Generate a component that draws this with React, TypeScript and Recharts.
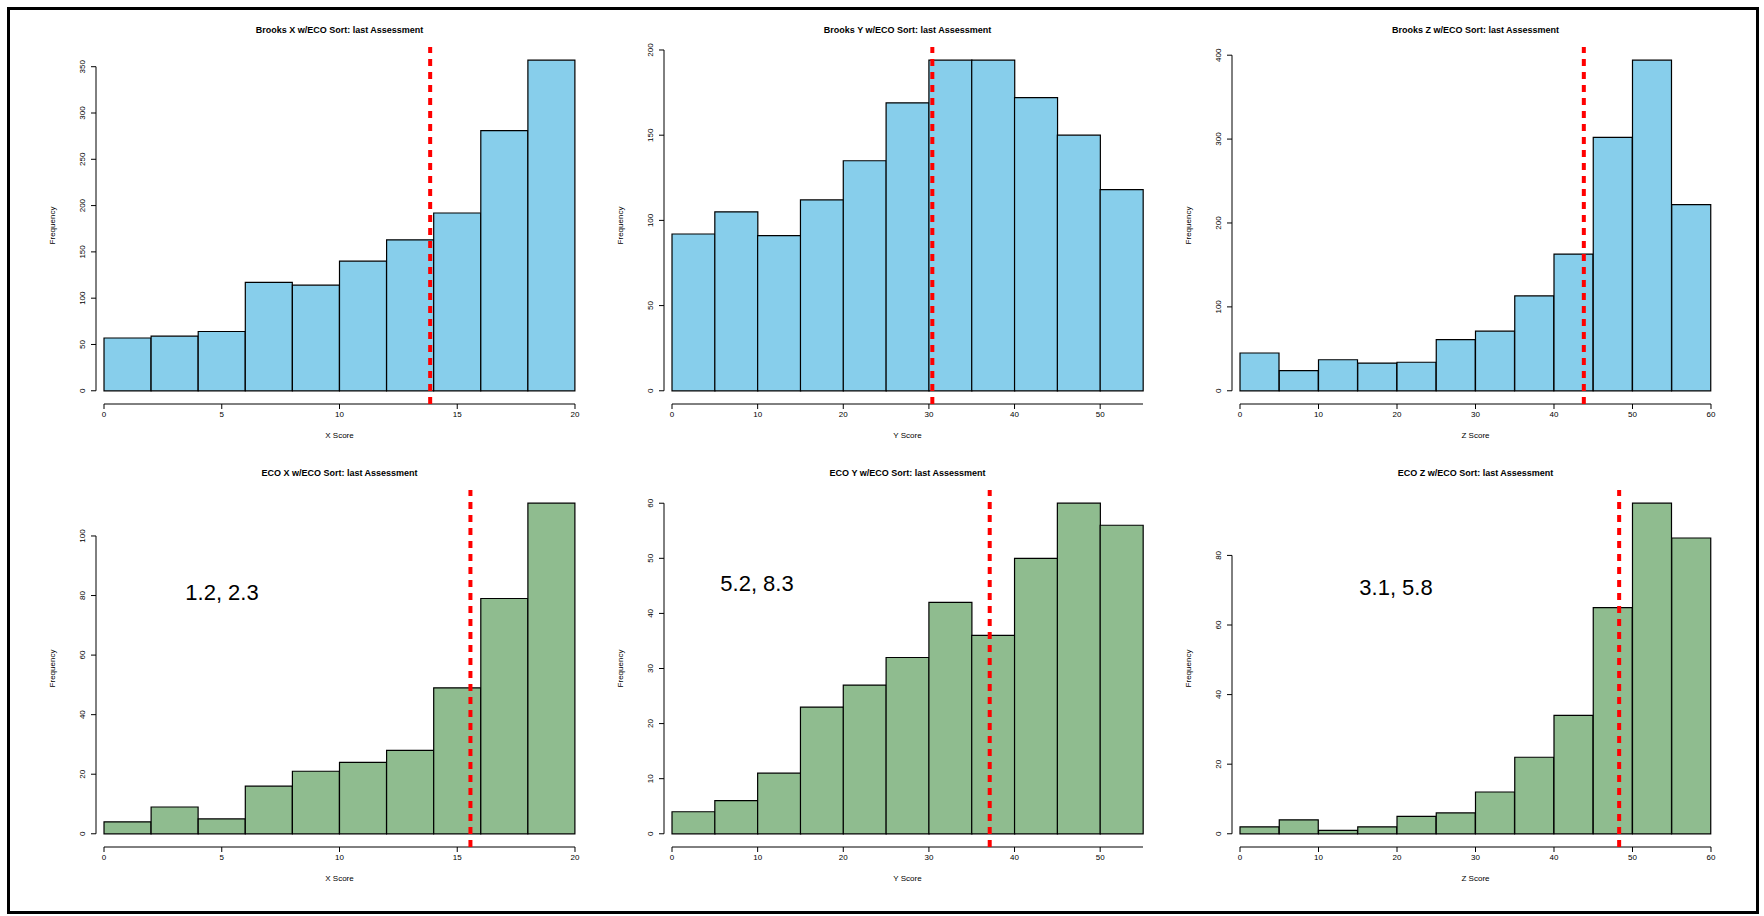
import React from 'react';
import { ComposedChart, Bar, XAxis, YAxis, ReferenceLine } from 'recharts';

// bin counts
const brooksX = [57, 59, 64, 117, 114, 140, 163, 192, 281, 357];
const brooksY = [92, 105, 91, 112, 135, 169, 194, 194, 172, 150, 118];
const brooksZ = [45, 24, 37, 33, 34, 61, 71, 113, 163, 302, 394, 222];
const ecoX = [4, 9, 5, 16, 21, 24, 28, 49, 79, 111];
const ecoY = [4, 6, 11, 23, 27, 32, 42, 36, 50, 60, 56];
const ecoZ = [2, 4, 1, 2, 5, 6, 12, 22, 34, 65, 95, 85];

const xTicksX = [0, 5, 10, 15, 20];
const xTicksY = [0, 10, 20, 30, 40, 50];
const xTicksZ = [0, 10, 20, 30, 40, 50, 60];

const BLUE = '#87CEEB';
const GREEN = '#8FBC8F';
const FONT = 'Liberation Sans, Arial, sans-serif';

interface PanelProps {
  title: string;
  xLabel: string;
  counts: number[];
  binWidth: number;
  xMax: number;
  xTicks: number[];
  yTicks: number[];
  cut: number;
  fill: string;
  left: number;
  top: number;
  note?: string;
  noteX?: number;
  noteY?: number;
}

const W = 487;
const H = 357;
const ML = 40;
const MT = 40;

const YTick = (props: any) => {
  const { x, y, payload } = props;
  const tx = x - 4;
  return (
    <text x={tx} y={y} transform={`rotate(-90, ${tx}, ${y})`} textAnchor="middle" fontSize={8} fill="#000" fontFamily={FONT}>
      {payload.value}
    </text>
  );
};

const Panel: React.FC<PanelProps> = (p) => {
  const data = p.counts.map((c, i) => ({ mid: (i + 0.5) * p.binWidth, count: c }));
  const ymax = Math.max(...p.counts);
  const xPad = p.xMax * 0.017;
  const yLo = -0.04 * ymax;
  const lastTick = p.yTicks[p.yTicks.length - 1];
  return (
    <div style={{ position: 'absolute', left: p.left - ML, top: p.top - MT }}>
      <div style={{ position: 'absolute', left: ML, top: MT - 22, width: W, textAlign: 'center', fontSize: 9, fontWeight: 'bold', fontFamily: FONT }}>
        {p.title}
      </div>
      <div style={{ position: 'absolute', left: ML, top: MT + H + 27, width: W, textAlign: 'center', fontSize: 8, fontFamily: FONT }}>
        {p.xLabel}
      </div>
      <div style={{ position: 'absolute', left: ML - 44 - 30, top: MT + H / 2 - 5, width: 60, textAlign: 'center', fontSize: 8, fontFamily: FONT, transform: 'rotate(-90deg)' }}>
        Frequency
      </div>
      {p.note && (
        <div style={{ position: 'absolute', left: (p.noteX ?? 0) - p.left + ML - 85, top: (p.noteY ?? 0) - p.top + MT - 13, width: 170, textAlign: 'center', fontSize: 22, lineHeight: '26px', fontFamily: FONT }}>
          {p.note}
        </div>
      )}
      <ComposedChart width={W + ML + 20} height={H + MT + 40} data={data} barCategoryGap={0} barGap={0}
        margin={{ left: ML - 30, top: MT, right: 20, bottom: 10 }}>
        <XAxis dataKey="mid" type="number" domain={[-xPad, p.xMax + xPad]} ticks={p.xTicks} axisLine={false}
          tickSize={5} tick={{ fontSize: 8, fill: '#000', fontFamily: FONT }} tickLine={{ stroke: '#000' }} height={30} allowDataOverflow />
        <YAxis type="number" domain={[yLo, 1.04 * ymax]} ticks={p.yTicks} axisLine={false} width={30}
          tickSize={5} tick={<YTick />} tickLine={{ stroke: '#000' }} allowDataOverflow />
        <Bar dataKey="count" fill={p.fill} stroke="#000" strokeWidth={1.2} isAnimationActive={false} />
        <ReferenceLine segment={[{ x: 0, y: yLo }, { x: p.xMax, y: yLo }]} stroke="#000" ifOverflow="visible" />
        <ReferenceLine segment={[{ x: -xPad, y: 0 }, { x: -xPad, y: lastTick }]} stroke="#000" ifOverflow="visible" />
        <ReferenceLine x={p.cut} stroke="#ff0000" strokeWidth={4} strokeDasharray="7 6" ifOverflow="visible" />
      </ComposedChart>
    </div>
  );
};

const App: React.FC = () => {
  return (
    <div style={{ position: 'absolute', left: 0, top: 0, width: 1764, height: 916, background: '#fff', fontFamily: FONT }}>
      <div style={{ position: 'absolute', left: 7, top: 7, width: 1746, height: 901, border: '3px solid #000' }} />
      <Panel title="Brooks X w/ECO Sort: last Assessment" xLabel="X Score" counts={brooksX} binWidth={2} xMax={20}
        xTicks={xTicksX} yTicks={[0, 50, 100, 150, 200, 250, 300, 350]} cut={13.85} fill={BLUE} left={96} top={47} />
      <Panel title="Brooks Y w/ECO Sort: last Assessment" xLabel="Y Score" counts={brooksY} binWidth={5} xMax={55}
        xTicks={xTicksY} yTicks={[0, 50, 100, 150, 200]} cut={30.4} fill={BLUE} left={664} top={47} />
      <Panel title="Brooks Z w/ECO Sort: last Assessment" xLabel="Z Score" counts={brooksZ} binWidth={5} xMax={60}
        xTicks={xTicksZ} yTicks={[0, 100, 200, 300, 400]} cut={43.8} fill={BLUE} left={1232} top={47} />
      <Panel title="ECO X w/ECO Sort: last Assessment" xLabel="X Score" counts={ecoX} binWidth={2} xMax={20}
        xTicks={xTicksX} yTicks={[0, 20, 40, 60, 80, 100]} cut={15.56} fill={GREEN} left={96} top={490}
        note="1.2, 2.3" noteX={222} noteY={593} />
      <Panel title="ECO Y w/ECO Sort: last Assessment" xLabel="Y Score" counts={ecoY} binWidth={5} xMax={55}
        xTicks={xTicksY} yTicks={[0, 10, 20, 30, 40, 50, 60]} cut={37.1} fill={GREEN} left={664} top={490}
        note="5.2, 8.3" noteX={757} noteY={584} />
      <Panel title="ECO Z w/ECO Sort: last Assessment" xLabel="Z Score" counts={ecoZ} binWidth={5} xMax={60}
        xTicks={xTicksZ} yTicks={[0, 20, 40, 60, 80]} cut={48.3} fill={GREEN} left={1232} top={490}
        note="3.1, 5.8" noteX={1396} noteY={588} />
    </div>
  );
};

export default App;
